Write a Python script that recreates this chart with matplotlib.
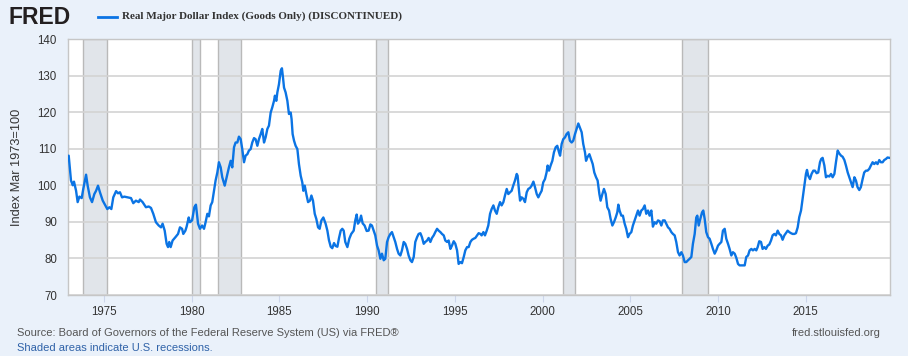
import matplotlib
matplotlib.use("Agg")
import matplotlib.pyplot as plt
from matplotlib.lines import Line2D

# ---------------- data (decimal years, index values) ----------------
years_a = [1973.00, 1973.13, 1973.23, 1973.30, 1973.42, 1973.51, 1973.61, 1973.74, 1973.83, 1973.99,
           1974.08, 1974.21, 1974.33, 1974.46, 1974.56, 1974.67, 1974.78, 1974.94, 1975.09, 1975.20,
           1975.32, 1975.43, 1975.54, 1975.70, 1975.81, 1975.92, 1976.04, 1976.17, 1976.36, 1976.55,
           1976.68, 1976.83, 1976.99, 1977.06, 1977.21, 1977.40, 1977.56, 1977.69, 1977.82, 1977.97,
           1978.13, 1978.26, 1978.35, 1978.47, 1978.58, 1978.66, 1978.73, 1978.81, 1978.92, 1979.08,
           1979.23, 1979.34, 1979.46, 1979.53, 1979.65, 1979.72, 1979.84, 1979.91, 1980.03, 1980.16,
           1980.25, 1980.37, 1980.48, 1980.60, 1980.71]
values_a = [108.1, 101.3, 100.0, 101.0, 98.5, 95.4, 96.9, 96.5, 99.0, 102.9,
            99.9, 96.7, 95.4, 97.6, 98.5, 99.9, 98.1, 95.8, 94.5, 93.5,
            94.0, 93.5, 96.7, 98.4, 97.8, 98.1, 96.7, 96.9, 96.7, 96.5,
            95.1, 95.8, 95.4, 96.1, 95.4, 94.0, 94.2, 93.8, 92.2, 89.9,
            89.0, 88.5, 89.5, 87.6, 84.0, 83.1, 84.5, 83.1, 84.9, 85.8,
            86.7, 88.5, 88.1, 86.7, 87.6, 88.7, 91.2, 89.9, 90.4, 94.0,
            94.7, 89.5, 88.1, 89.0, 88.1]

years_b = [1980.80, 1980.90, 1980.99, 1981.09, 1981.18, 1981.28, 1981.37, 1981.47, 1981.56, 1981.66,
           1981.75, 1981.89, 1982.00, 1982.13, 1982.23, 1982.32, 1982.42, 1982.51, 1982.61, 1982.70,
           1982.80, 1982.89, 1982.99, 1983.08, 1983.18, 1983.27, 1983.37, 1983.46, 1983.56, 1983.65,
           1983.75, 1983.84, 1983.94, 1984.03, 1984.13, 1984.22, 1984.32, 1984.41, 1984.51, 1984.60,
           1984.70, 1984.75, 1984.83, 1984.89, 1984.98, 1985.08, 1985.15, 1985.21, 1985.27, 1985.36,
           1985.46, 1985.55, 1985.65, 1985.70, 1985.76, 1985.84, 1985.93, 1986.03, 1986.12, 1986.22,
           1986.31, 1986.37, 1986.45, 1986.54, 1986.64, 1986.75, 1986.83, 1986.92, 1987.02, 1987.11,
           1987.21, 1987.30, 1987.40, 1987.51, 1987.64, 1987.74, 1987.83, 1987.93, 1988.02, 1988.12,
           1988.21, 1988.31, 1988.40, 1988.50, 1988.59]
values_b = [89.9, 92.2, 91.5, 94.5, 95.4, 98.5, 101.3, 103.5, 106.3, 104.9,
            102.2, 99.9, 102.2, 104.9, 106.7, 104.9, 110.4, 111.7, 111.7, 113.3,
            112.6, 109.9, 106.3, 108.1, 108.5, 109.5, 109.9, 111.7, 112.9, 112.6,
            110.8, 112.6, 114.0, 115.4, 111.7, 113.1, 115.4, 116.3, 119.9, 121.3,
            123.1, 124.5, 123.1, 125.4, 127.6, 131.3, 132.0, 129.5, 126.7, 125.4,
            123.1, 119.5, 119.9, 118.1, 114.0, 112.2, 110.8, 109.9, 105.8, 102.6,
            100.8, 98.5, 99.9, 97.6, 95.4, 95.8, 97.2, 95.8, 92.2, 90.8,
            88.5, 88.1, 90.4, 91.2, 89.5, 87.6, 85.0, 83.2, 82.8, 84.2,
            83.4, 83.2, 85.5, 87.6, 88.1]

years_c = [1988.67, 1988.76, 1988.88, 1988.99, 1989.10, 1989.24, 1989.33, 1989.41, 1989.48, 1989.58,
           1989.66, 1989.75, 1989.86, 1989.98, 1990.09, 1990.19, 1990.28, 1990.38, 1990.47, 1990.57,
           1990.66, 1990.76, 1990.85, 1990.95, 1991.04, 1991.14, 1991.23, 1991.33, 1991.42, 1991.52,
           1991.61, 1991.71, 1991.80, 1991.90, 1991.99, 1992.09, 1992.18, 1992.28, 1992.37, 1992.47,
           1992.56, 1992.66, 1992.75, 1992.85, 1992.94, 1993.04, 1993.13, 1993.23, 1993.32, 1993.42,
           1993.51, 1993.61, 1993.70, 1993.80, 1993.89, 1993.99, 1994.08, 1994.18, 1994.27, 1994.37,
           1994.46, 1994.56, 1994.65, 1994.75, 1994.84, 1994.94, 1995.03, 1995.13, 1995.22, 1995.32,
           1995.41, 1995.51, 1995.60, 1995.70, 1995.79, 1995.89, 1995.98, 1996.08, 1996.17, 1996.27,
           1996.36, 1996.46]
values_c = [87.6, 84.5, 83.1, 85.4, 86.7, 87.6, 90.4, 92.0, 89.5, 90.2,
            91.7, 89.6, 89.0, 87.5, 87.6, 89.3, 89.0, 87.6, 86.3, 83.5,
            82.2, 79.9, 81.3, 79.5, 79.9, 84.5, 85.8, 86.7, 87.2, 85.8,
            84.5, 82.6, 81.3, 80.8, 82.2, 84.5, 84.0, 82.6, 80.8, 79.5,
            79.0, 80.4, 84.5, 85.8, 86.7, 86.9, 85.8, 84.0, 84.5, 84.9,
            85.6, 84.5, 85.6, 86.3, 87.2, 88.1, 87.6, 87.2, 86.7, 86.3,
            84.9, 84.5, 84.9, 82.6, 83.5, 84.7, 84.0, 82.2, 78.5, 79.0,
            78.7, 80.4, 82.2, 83.1, 83.1, 84.5, 85.1, 85.4, 85.6, 86.3,
            86.9, 86.7]

years_d = [1996.53, 1996.63, 1996.72, 1996.82, 1996.91, 1997.01, 1997.10, 1997.20, 1997.29, 1997.39,
           1997.48, 1997.58, 1997.67, 1997.77, 1997.86, 1997.96, 1998.05, 1998.15, 1998.24, 1998.33,
           1998.43, 1998.53, 1998.58, 1998.66, 1998.72, 1998.81, 1998.91, 1999.00, 1999.10, 1999.19,
           1999.29, 1999.38, 1999.48, 1999.57, 1999.67, 1999.76, 1999.85, 1999.95, 2000.04, 2000.14,
           2000.23, 2000.29, 2000.37, 2000.46, 2000.56, 2000.65, 2000.75, 2000.84, 2000.94, 2001.00,
           2001.09, 2001.18, 2001.28, 2001.37, 2001.47, 2001.56, 2001.66, 2001.75, 2001.85, 2001.94,
           2002.04, 2002.13, 2002.23, 2002.32, 2002.42, 2002.48, 2002.55, 2002.67, 2002.76, 2002.86,
           2002.95, 2003.05, 2003.14, 2003.24, 2003.31, 2003.41, 2003.50, 2003.60, 2003.69, 2003.79,
           2003.88, 2003.98, 2004.07, 2004.17, 2004.26]
values_d = [86.3, 87.2, 86.3, 87.6, 89.0, 92.2, 93.5, 94.5, 93.1, 92.2,
            94.0, 95.4, 94.5, 95.4, 97.2, 99.0, 97.6, 98.1, 98.5, 99.9,
            101.3, 103.1, 102.6, 98.5, 95.8, 96.7, 96.3, 95.4, 98.1, 99.0,
            99.3, 99.9, 101.0, 99.5, 97.6, 96.7, 97.6, 98.5, 100.8, 101.7,
            103.5, 105.4, 104.0, 105.4, 106.7, 109.0, 110.4, 110.8, 109.0, 108.1,
            111.3, 112.6, 113.1, 114.0, 114.5, 112.2, 111.7, 112.2, 114.0, 115.4,
            116.9, 115.8, 114.5, 111.3, 109.0, 106.7, 107.6, 108.5, 107.2, 105.8,
            103.5, 102.2, 101.3, 97.6, 95.8, 97.6, 99.0, 97.6, 94.0, 93.1,
            90.8, 89.0, 89.9, 91.2, 92.6]

years_e = [2004.32, 2004.39, 2004.49, 2004.58, 2004.68, 2004.77, 2004.87, 2004.96, 2005.06, 2005.15,
           2005.25, 2005.34, 2005.44, 2005.53, 2005.63, 2005.72, 2005.82, 2005.91, 2006.01, 2006.10,
           2006.20, 2006.29, 2006.39, 2006.48, 2006.58, 2006.67, 2006.77, 2006.86, 2006.96, 2007.05,
           2007.15, 2007.24, 2007.34, 2007.43, 2007.53, 2007.62, 2007.72, 2007.81, 2007.91, 2008.00,
           2008.10, 2008.19, 2008.29, 2008.38, 2008.48, 2008.57, 2008.67, 2008.76, 2008.82, 2008.90,
           2008.99, 2009.09, 2009.16, 2009.24, 2009.33, 2009.43, 2009.52, 2009.62, 2009.71, 2009.81,
           2009.90, 2010.00, 2010.09, 2010.19, 2010.28, 2010.38, 2010.47, 2010.57, 2010.66, 2010.76,
           2010.85, 2010.95, 2011.04, 2011.14, 2011.23, 2011.33, 2011.42, 2011.52, 2011.61, 2011.71,
           2011.80, 2011.90, 2011.99, 2012.09, 2012.18]
values_e = [94.7, 93.1, 91.7, 91.7, 89.5, 88.1, 85.8, 86.7, 87.2, 89.0,
            90.4, 91.7, 93.1, 91.7, 93.1, 93.5, 94.5, 92.2, 93.1, 91.7,
            93.1, 88.7, 89.9, 89.5, 90.4, 90.2, 89.0, 90.4, 90.4, 89.5,
            88.5, 88.1, 87.2, 86.7, 86.3, 84.5, 81.7, 80.8, 81.7, 80.8,
            79.0, 79.0, 79.5, 79.9, 80.4, 84.0, 86.7, 91.2, 91.7, 89.0,
            90.8, 92.6, 93.1, 90.8, 87.2, 85.8, 85.4, 84.0, 82.6, 81.3,
            82.2, 83.5, 84.0, 84.5, 87.6, 88.1, 85.4, 84.0, 82.6, 80.8,
            81.7, 81.3, 80.2, 78.5, 78.1, 78.1, 78.1, 78.1, 80.4, 80.8,
            82.2, 82.6, 82.2, 82.6, 82.2]

years_f = [2012.26, 2012.35, 2012.45, 2012.54, 2012.64, 2012.73, 2012.83, 2012.92, 2013.02, 2013.11,
           2013.21, 2013.30, 2013.40, 2013.49, 2013.59, 2013.68, 2013.78, 2013.87, 2013.97, 2014.06,
           2014.16, 2014.25, 2014.35, 2014.44, 2014.54, 2014.63, 2014.73, 2014.82, 2014.92, 2015.01,
           2015.07, 2015.14, 2015.24, 2015.33, 2015.43, 2015.52, 2015.62, 2015.71, 2015.81, 2015.88,
           2015.96, 2016.06, 2016.15, 2016.25, 2016.34, 2016.44, 2016.53, 2016.63, 2016.72, 2016.82,
           2016.91, 2017.01, 2017.10, 2017.20, 2017.29, 2017.39, 2017.48, 2017.58, 2017.67, 2017.77,
           2017.86, 2017.95, 2018.05, 2018.14, 2018.24, 2018.33, 2018.43, 2018.52, 2018.62, 2018.71,
           2018.81, 2018.90, 2019.00, 2019.09, 2019.19, 2019.28, 2019.38, 2019.47, 2019.57, 2019.66,
           2019.76, 2019.80]
values_f = [83.1, 84.7, 84.5, 82.6, 83.1, 82.6, 83.5, 83.8, 84.9, 86.3,
            86.7, 86.3, 87.6, 86.7, 86.3, 85.1, 86.3, 86.9, 87.6, 87.2,
            86.9, 86.7, 86.7, 86.9, 88.5, 91.3, 93.1, 96.3, 99.9, 103.1,
            104.2, 102.6, 101.7, 103.1, 104.0, 104.0, 103.3, 103.5, 106.3, 107.2,
            107.5, 105.4, 102.2, 102.6, 102.4, 103.1, 102.2, 103.1, 106.3, 109.5,
            108.7, 108.1, 107.8, 106.9, 105.4, 103.5, 102.2, 100.8, 99.5, 102.2,
            101.3, 99.5, 98.7, 99.5, 101.7, 103.5, 104.0, 104.0, 104.5, 105.4,
            106.3, 105.8, 106.3, 105.8, 106.9, 106.3, 106.3, 106.9, 107.2, 107.6,
            107.5, 107.5]

recession_starts = [1973.83, 1980.00, 1981.50, 1990.50, 2001.17, 2007.92]
recession_ends = [1975.17, 1980.50, 1982.83, 1991.17, 2001.83, 2009.42]

x_ticks = [1975, 1980, 1985, 1990, 1995, 2000, 2005, 2010, 2015]
y_ticks = [70, 80, 90, 100, 110, 120, 130, 140]

title = "Real Major Dollar Index (Goods Only) (DISCONTINUED)"
y_label = "Index Mar 1973=100"
source = "Source: Board of Governors of the Federal Reserve System (US) via FRED\u00ae"
note = "Shaded areas indicate U.S. recessions."
site = "fred.stlouisfed.org"

years = years_a + years_b + years_c + years_d + years_e + years_f
values = values_a + values_b + values_c + values_d + values_e + values_f

# ---------------- figure ----------------
W, H = 908, 356
BG = "#eaf1fa"
LINE = "#0b74e4"
TXT = "#333333"
plt.rcParams["font.family"] = ["Liberation Sans", "DejaVu Sans"]

fig = plt.figure(figsize=(W / 100, H / 100), dpi=100, facecolor=BG)
ax = fig.add_axes([68 / W, 1 - 295 / H, 822 / W, 256 / H])
ax.set_facecolor("white")

for s, e in zip(recession_starts, recession_ends):
    ax.axvspan(s, e, facecolor="#e1e5ea", edgecolor="#b9b9b9", lw=1.0, zorder=1)
for yv in y_ticks:
    ax.axhline(yv, color="#d3d3d3", lw=1.2, zorder=2)

ax.plot(years, values, color=LINE, lw=1.7, solid_joinstyle="round",
        solid_capstyle="round", zorder=4)

ax.set_xlim(1972.96, 2019.80)
ax.set_ylim(70, 140)
ax.set_yticks(y_ticks)
ax.set_xticks(x_ticks)
ax.set_xticklabels([str(t) for t in x_ticks])
ax.tick_params(axis="y", length=0, labelsize=8.3, labelcolor=TXT, pad=8)
ax.tick_params(axis="x", length=5, color="#ccd6eb", labelsize=8.3, labelcolor=TXT, pad=3)
for sp in ax.spines.values():
    sp.set_color("#c6c6c6")
    sp.set_linewidth(1.0)

fig.text(17 / W, 1 - 167 / H, y_label, rotation=90, ha="center", va="center",
         fontsize=9.2, color=TXT)

# header
fig.text(8 / W, 1 - 17.5 / H, "FRED", fontsize=16.5, fontweight="bold",
         color="#231f20", va="center", ha="left")
fig.add_artist(Line2D([98 / W, 117 / W], [1 - 16.5 / H, 1 - 16.5 / H],
                      color=LINE, lw=2.0, transform=fig.transFigure))
fig.text(122 / W, 1 - 16.5 / H, title, family=["Liberation Serif", "DejaVu Serif"],
         fontweight="bold", fontsize=8.0, color=TXT, va="center", ha="left")

# footer
fig.text(17 / W, 1 - 333 / H, source, fontsize=8.0, color="#555555", va="center", ha="left")
fig.text(17 / W, 1 - 348 / H, note, fontsize=8.0, color="#2f62a8", va="center", ha="left")
fig.text(881 / W, 1 - 333 / H, site, fontsize=8.0, color="#555555", va="center", ha="right")

fig.savefig("out.png", dpi=100, facecolor=BG)
